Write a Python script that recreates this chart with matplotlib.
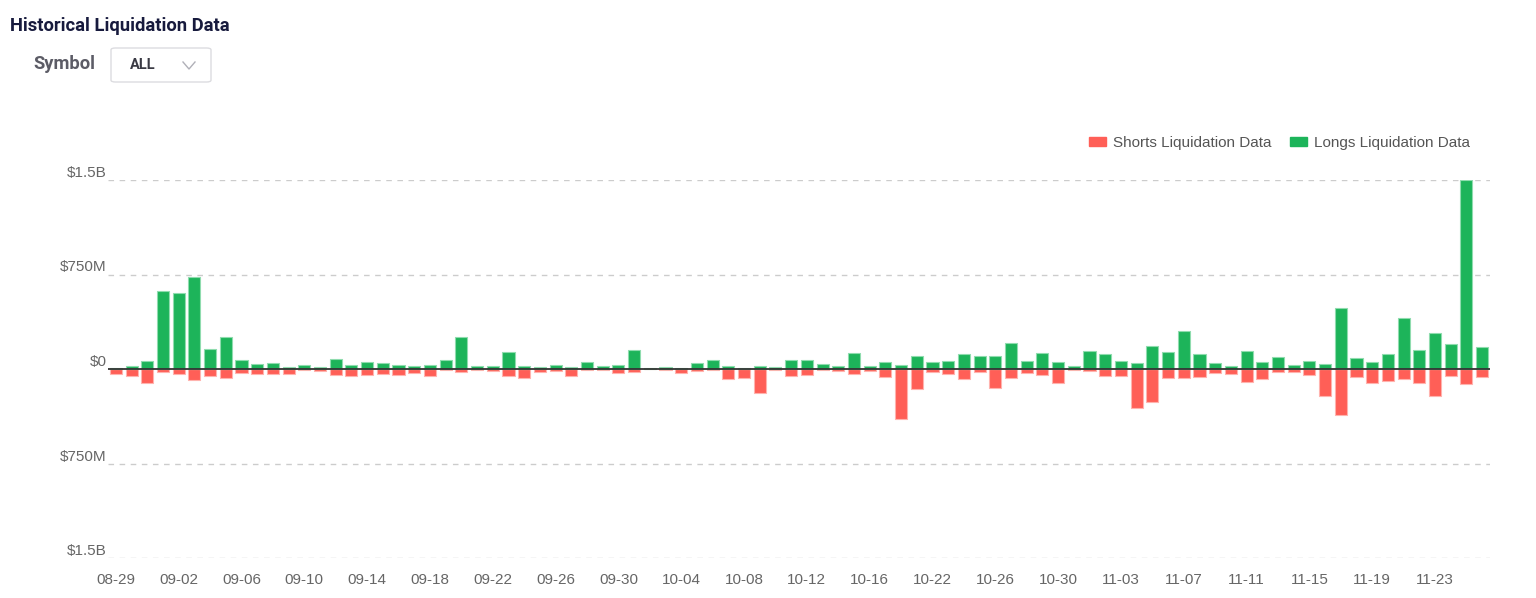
import matplotlib
matplotlib.use("Agg")
import matplotlib.pyplot as plt
import matplotlib.patches as ptc
from matplotlib.lines import Line2D
import pandas as pd

# --- data (values in $M) ---
dates = [d.strftime("%m-%d") for d in pd.date_range("2023-08-29", "2023-11-26")
         if d.strftime("%m-%d") not in ("10-17", "10-18")]

longs = [10, 21, 63, 623, 602, 731, 155, 252, 71, 39, 47, 18, 32, 13, 79, 29, 53, 45, 34, 21, 34, 71, 252,
         24, 21, 134, 24, 13, 29, 13, 55, 21, 29, 147, 8, 16, 8, 45, 71, 26, 10, 26, 16, 71, 71, 37,
         26, 124, 26, 55, 34, 103, 55, 63, 118, 100, 105, 205, 60, 124, 53, 26, 139, 118, 60, 47, 181, 134, 302,
         118, 45, 21, 145, 53, 95, 32, 60, 42, 482, 84, 58, 118, 408, 150, 289, 200, 1498, 171]

shorts = [40, 55, 110, 26, 37, 87, 55, 71, 32, 39, 37, 39, 8, 13, 47, 58, 47, 37, 47, 32, 55, 8, 21,
          10, 16, 53, 68, 26, 16, 55, 5, 8, 29, 21, 3, 10, 32, 16, 5, 79, 71, 189, 8, 55, 45, 10,
          13, 42, 13, 60, 397, 155, 26, 37, 82, 24, 150, 71, 34, 45, 113, 10, 18, 53, 55, 313, 260, 74, 71,
          66, 29, 37, 100, 79, 24, 21, 47, 213, 368, 63, 110, 95, 82, 108, 216, 53, 121, 60]

y_ticks = [1500, 750, 0, -750, -1500]
y_labels = ["$1.5B", "$750M", "$0", "$750M", "$1.5B"]

GREEN = "#1db45a"
RED = "#ff5f57"
W, H = 1536, 598
HEAD_FONT = ["Roboto", "DejaVu Sans"]


def fx(px):
    return px / W


def fy(py):
    return 1 - py / H


fig = plt.figure(figsize=(W / 100, H / 100), dpi=100)
plt.rcParams["font.family"] = ["Liberation Sans", "DejaVu Sans"]

# --- header ---
fig.text(fx(10), fy(26), "Historical Liquidation Data", fontsize=13.2, fontweight="bold",
         color="#171a3d", family=HEAD_FONT, va="center", ha="left")
fig.text(fx(33), fy(64), "Symbol", fontsize=13.2, fontweight="bold",
         color="#5c5c66", family=HEAD_FONT, va="center", ha="left")
box = ptc.FancyBboxPatch((fx(111), fy(82)), fx(100), 34 / H,
                         boxstyle="round,pad=0,rounding_size=0.003",
                         transform=fig.transFigure, facecolor="white",
                         edgecolor="#dcdce0", linewidth=1)
fig.patches.append(box)
fig.text(fx(130), fy(65), "ALL", fontsize=10.5, fontweight="bold", color="#3a3a44",
         family=HEAD_FONT, va="center", ha="left")
fig.lines.append(Line2D([fx(183), fx(189), fx(195)], [fy(62), fy(69), fy(62)],
                        transform=fig.transFigure, color="#b0b0b8", linewidth=1))

# --- chart ---
ax = fig.add_axes([fx(108), fy(558), fx(1490 - 108), (558 - 180) / H])
x = list(range(len(dates)))
ax.bar(x, [-s for s in shorts], width=0.77, color=RED, edgecolor="#ffb3ae",
       linewidth=0.8, label="Shorts Liquidation Data", zorder=3)
ax.bar(x, longs, width=0.77, color=GREEN, edgecolor="#8fdcae",
       linewidth=0.8, label="Longs Liquidation Data", zorder=3)

ax.set_xlim(-0.5, len(dates) - 0.5)
ax.set_ylim(-1500, 1500)
ax.set_yticks(y_ticks)
ax.set_yticklabels(y_labels)
for lab in ax.get_yticklabels():
    lab.set_va("bottom")
ax.set_xticks(x[::4])
ax.set_xticklabels(dates[::4])

for v in y_ticks:
    if v != 0:
        ax.axhline(v, color="#cccccc", linewidth=1, linestyle=(0, (4, 4)), zorder=1)
ax.axhline(0, color="#333333", linewidth=1.3, zorder=4)

for s in ax.spines.values():
    s.set_visible(False)
ax.tick_params(axis="both", length=0, labelsize=11, labelcolor="#666666")
ax.tick_params(axis="x", pad=11)
ax.tick_params(axis="y", pad=1)

handles = [ptc.Patch(color=RED, label="Shorts Liquidation Data"),
           ptc.Patch(color=GREEN, label="Longs Liquidation Data")]
leg = ax.legend(handles=handles, loc="center right", bbox_to_anchor=(fx(1484), fy(143)),
                bbox_transform=fig.transFigure, ncol=2, frameon=False, fontsize=11,
                handlelength=1.15, handleheight=0.45, handletextpad=0.45, columnspacing=1.2)
for t in leg.get_texts():
    t.set_color("#555555")

fig.savefig("out.png", dpi=100)
